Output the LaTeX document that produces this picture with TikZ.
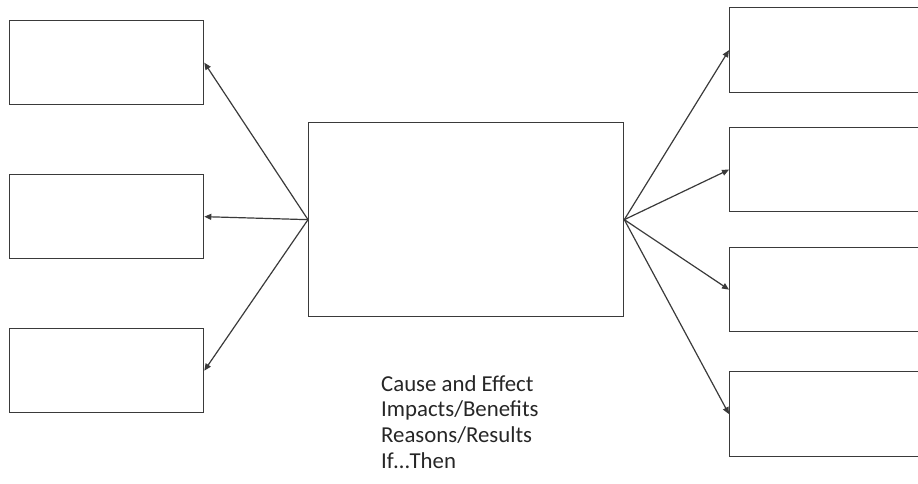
\documentclass[tikz,border=0pt]{standalone}
\usepackage{fontspec}
\setmainfont{Carlito}
\usetikzlibrary{arrows.meta}
\definecolor{ink}{HTML}{3A3A3A}
\tikzset{
  blank/.style={draw=ink, line width=1.3pt, fill=white, inner sep=0pt, anchor=north west},
  link/.style={draw=ink, line width=1.2pt, -{Triangle[length=7pt,width=6pt]}},
}
\begin{document}
\begin{tikzpicture}[x=1pt, y=-1pt]
  \useasboundingbox (0,0) rectangle (918,483);
  \clip (0,0) rectangle (918,483);
  % centre box
  \node[blank, minimum width=315pt, minimum height=194pt] (c) at (308,122) {};
  % left column
  \node[blank, minimum width=194pt, minimum height=84pt] (l1) at (9,20) {};
  \node[blank, minimum width=194pt, minimum height=84pt] (l2) at (9,174) {};
  \node[blank, minimum width=194pt, minimum height=84pt] (l3) at (9,328) {};
  % right column, running past the page edge
  \node[blank, minimum width=220pt, minimum height=85pt] (r1) at (729,7) {};
  \node[blank, minimum width=220pt, minimum height=84pt] (r2) at (729,127) {};
  \node[blank, minimum width=220pt, minimum height=84pt] (r3) at (729,247) {};
  \node[blank, minimum width=220pt, minimum height=85pt] (r4) at (729,371) {};
  % connectors
  \draw[link] (c.west) -- (l1.east);
  \draw[link] (c.west) -- (l2.east);
  \draw[link] (c.west) -- (l3.east);
  \draw[link] (c.east) -- (r1.west);
  \draw[link] (c.east) -- (r2.west);
  \draw[link] (c.east) -- (r3.west);
  \draw[link] (c.east) -- (r4.west);
  % caption
  \node[anchor=north west, inner sep=0pt, align=left, text=black!85,
        font=\fontsize{22.8pt}{25.7pt}\selectfont] (cap) at (381,375)
    {Cause and Effect\\Impacts/Benefits\\Reasons/Results\\If…Then};
\end{tikzpicture}
\end{document}
